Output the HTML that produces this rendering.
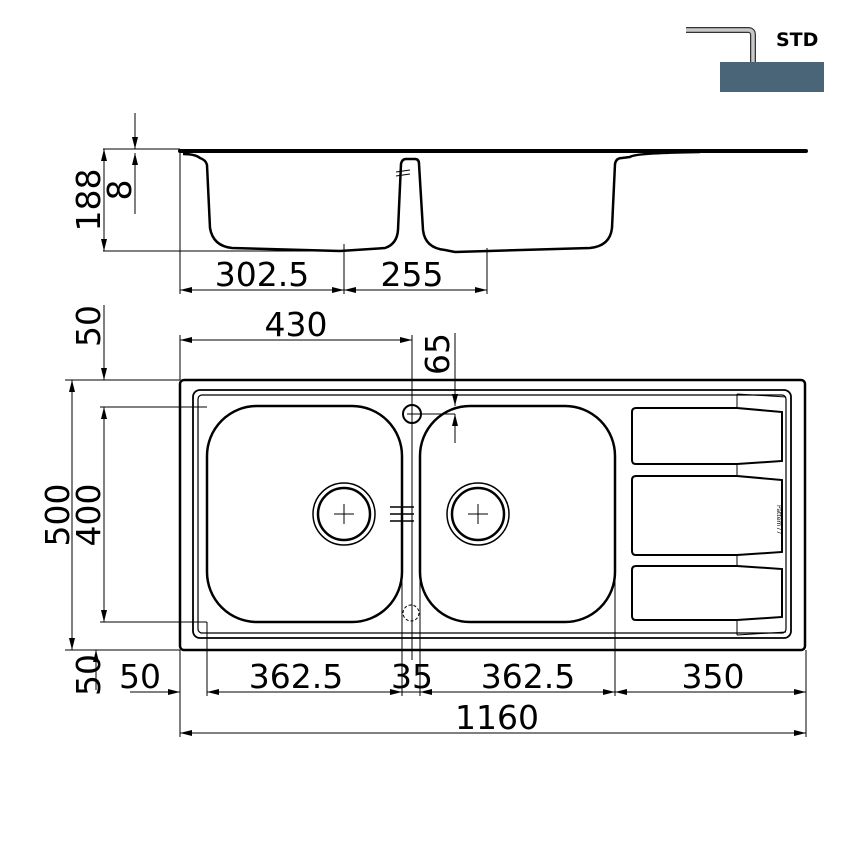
<!DOCTYPE html>
<html><head><meta charset="utf-8"><style>
html,body{margin:0;padding:0;background:#fff;}
svg{display:block;}
text{font-family:"DejaVu Sans","Liberation Sans",sans-serif;fill:#000;}
</style></head><body>
<svg width="850" height="850" viewBox="0 0 850 850" xmlns="http://www.w3.org/2000/svg">
<defs>
<marker id="a" viewBox="0 0 12 6" refX="12" refY="3" markerWidth="12" markerHeight="6" orient="auto-start-reverse" markerUnits="userSpaceOnUse"><path d="M0,0 L12,3 L0,6 z" fill="#000"/></marker>
</defs>
<!-- STD icon -->
<rect x="720" y="62" width="104" height="30" fill="#4a6478"/>
<path d="M686,30 H748 Q753,30 753,35 V62" fill="none" stroke="#333" stroke-width="6"/>
<path d="M686,30 H748 Q753,30 753,35 V62" fill="none" stroke="#c8c8c8" stroke-width="3.5"/>
<text x="776" y="46" font-size="19" font-weight="bold">STD</text>

<g fill="none" stroke="#000">
<!-- Section view -->
<line x1="180" y1="151" x2="806" y2="151" stroke-width="4" stroke-linecap="round"/>
<path d="M183,154 Q195,154 200,158 Q206,160 207,165 L210,228 Q213,246 232,248 L340,251 L385,248 Q397,244 398,230 L401,164 Q402,159 406,159 L415,159 Q419,159 419,164 L423,230 Q425,248 445,250 L455,252 L590,248 Q610,246 612,228 L615,164 Q616,158 622,158 L630,157 Q634,153 700,152" stroke-width="2.5"/>
<g stroke-width="1">
<line x1="103" y1="149" x2="180" y2="149"/>
<line x1="103" y1="251" x2="350" y2="251"/>
<line x1="104" y1="149" x2="104" y2="251" marker-start="url(#a)" marker-end="url(#a)"/>
<line x1="135" y1="113" x2="135" y2="149" marker-end="url(#a)"/>
<line x1="135" y1="214" x2="135" y2="153" marker-end="url(#a)"/>
<line x1="180" y1="151" x2="180" y2="294"/>
<line x1="344" y1="244" x2="344" y2="294"/>
<line x1="487" y1="248" x2="487" y2="294"/>
<line x1="180" y1="290" x2="344" y2="290" marker-start="url(#a)" marker-end="url(#a)"/>
<line x1="344" y1="290" x2="487" y2="290" marker-start="url(#a)" marker-end="url(#a)"/>
<line x1="396" y1="172" x2="410" y2="170"/><line x1="396" y1="176" x2="410" y2="174"/>
</g>

<!-- Plan view -->
<rect x="180" y="380" width="625" height="270" rx="4" stroke-width="2.5"/>
<rect x="193" y="390" width="598" height="248" rx="7" stroke-width="1.8"/>
<rect x="198" y="395" width="588" height="238" rx="4" stroke-width="1.2"/>
<rect x="207" y="406" width="195" height="216" rx="50" stroke-width="2.5"/>
<rect x="420" y="406" width="195" height="216" rx="50" stroke-width="2.5"/>
<circle cx="344" cy="514" r="31" stroke-width="1.5"/>
<circle cx="344" cy="514" r="26" stroke-width="2.5"/>
<circle cx="478" cy="514" r="31" stroke-width="1.5"/>
<circle cx="478" cy="514" r="26" stroke-width="2.5"/>
<circle cx="412" cy="414" r="9" stroke-width="2"/>
<circle cx="411" cy="613" r="8" stroke-width="1" stroke-dasharray="3,2"/>
<g stroke-width="1">
<path d="M334,514 H354 M344,504 V524 M468,514 H488 M478,504 V524 M407,414 H417 M412,409 V419"/>
<path d="M390,507 H414 M390,514 H414 M390,521 H414" stroke-width="1.5"/>
<path d="M636,408 H737 L782,412 V461 L737,464 H636 Q632,464 632,460 V412 Q632,408 636,408 Z" stroke-width="2"/>
<path d="M636,476 H737 L782,480 V552 L737,555 H636 Q632,555 632,551 V480 Q632,476 636,476 Z" stroke-width="2"/>
<path d="M636,566 H737 L782,569 V617 L737,620 H636 Q632,620 632,616 V570 Q632,566 636,566 Z" stroke-width="2"/>
<path d="M737,394 V408 M737,464 V476 M737,555 V566 M737,620 V635"/>
<path d="M737,394 L786,397 M737,635 L786,632"/>
<line x1="65" y1="380" x2="180" y2="380"/>
<line x1="100" y1="407" x2="207" y2="407"/>
<line x1="100" y1="622" x2="207" y2="622"/>
<line x1="65" y1="650" x2="180" y2="650"/>
<line x1="72" y1="380" x2="72" y2="650" marker-start="url(#a)" marker-end="url(#a)"/>
<line x1="104" y1="407" x2="104" y2="622" marker-start="url(#a)" marker-end="url(#a)"/>
<line x1="104" y1="305" x2="104" y2="380" marker-end="url(#a)"/>
<line x1="96" y1="690" x2="96" y2="650" marker-end="url(#a)"/>
<line x1="180" y1="335" x2="180" y2="380"/>
<line x1="412" y1="335" x2="412" y2="660"/>
<line x1="180" y1="340" x2="412" y2="340" marker-start="url(#a)" marker-end="url(#a)"/>
<line x1="455" y1="333" x2="455" y2="406" marker-end="url(#a)"/>
<line x1="455" y1="443" x2="455" y2="414" marker-end="url(#a)"/>
<line x1="412" y1="414" x2="455" y2="414"/>
<line x1="180" y1="650" x2="180" y2="737"/>
<line x1="207" y1="622" x2="207" y2="696"/>
<line x1="402" y1="500" x2="402" y2="696"/>
<line x1="420" y1="500" x2="420" y2="696"/>
<line x1="615" y1="520" x2="615" y2="696"/>
<line x1="806" y1="650" x2="806" y2="737"/>
<line x1="130" y1="692" x2="180" y2="692" marker-end="url(#a)"/>
<line x1="207" y1="692" x2="402" y2="692" marker-start="url(#a)" marker-end="url(#a)"/>
<line x1="402" y1="692" x2="420" y2="692"/>
<line x1="420" y1="692" x2="615" y2="692" marker-start="url(#a)" marker-end="url(#a)"/>
<line x1="615" y1="692" x2="806" y2="692" marker-start="url(#a)" marker-end="url(#a)"/>
<line x1="180" y1="733" x2="806" y2="733" marker-start="url(#a)" marker-end="url(#a)"/>
</g>
</g>
<g font-size="33">
<text x="262" y="286" text-anchor="middle">302.5</text>
<text x="412" y="286" text-anchor="middle">255</text>
<text transform="translate(100,200) rotate(-90)" text-anchor="middle">188</text>
<text transform="translate(131,190) rotate(-90)" text-anchor="middle">8</text>
<text x="296" y="336" text-anchor="middle">430</text>
<text transform="translate(449,354) rotate(-90)" text-anchor="middle">65</text>
<text transform="translate(100,326) rotate(-90)" text-anchor="middle">50</text>
<text transform="translate(69,515) rotate(-90)" text-anchor="middle">500</text>
<text transform="translate(100,515) rotate(-90)" text-anchor="middle">400</text>
<text transform="translate(100,675) rotate(-90)" text-anchor="middle">50</text>
<text x="140" y="688" text-anchor="middle">50</text>
<text x="296" y="688" text-anchor="middle">362.5</text>
<text x="412" y="688" text-anchor="middle">35</text>
<text x="528" y="688" text-anchor="middle">362.5</text>
<text x="713" y="688" text-anchor="middle">350</text>
<text x="497" y="729" text-anchor="middle">1160</text>
</g>
<text transform="translate(777,505) rotate(90)" font-size="6">Pattern77</text>
</svg>
</body></html>
